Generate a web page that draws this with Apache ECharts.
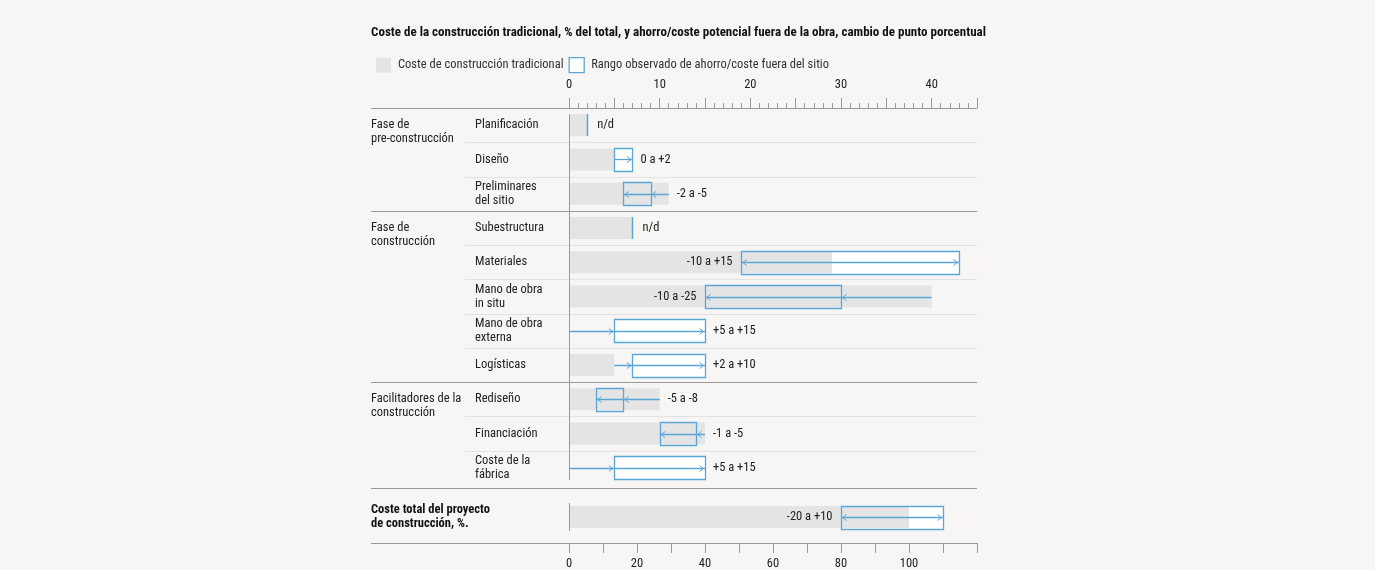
<!DOCTYPE html>
<html>
<head>
<meta charset="utf-8">
<script src="https://cdn.jsdelivr.net/npm/echarts@6/dist/echarts.min.js"></script>
<style>
  html, body { margin: 0; padding: 0; background: #f7f6f4; }
  #chart { width: 1375px; height: 570px; }
</style>
</head>
<body>
<div id="chart"></div>
<script>
const FONT = "'Roboto Condensed', 'Open Sans Condensed', sans-serif";
const BLUE = '#5aa6d8';
const GREY_BAR = '#e4e4e4';
const LINE = '#9a9a9a';
const SOFT = '#e3e3e3';

// filas superiores (% del total, escala de arriba)
const categories = ['Planificación', 'Diseño', 'Preliminares\ndel sitio', 'Subestructura', 'Materiales',
  'Mano de obra\nin situ', 'Mano de obra\nexterna', 'Logísticas', 'Rediseño', 'Financiación', 'Coste de la\nfábrica'];
const traditional = [2, 5, 11, 7, 29, 40, 0, 5, 10, 15, 0];
const rangeLow = [null, 5, 6, null, 19, 15, 5, 7, 3, 10, 5];
const rangeHigh = [null, 7, 9, null, 43, 30, 15, 15, 6, 14, 15];
const rangeLabels = ['n/d', '0 a +2', '-2 a -5', 'n/d', '-10 a +15', '-10 a -25', '+5 a +15', '+2 a +10', '-5 a -8', '-1 a -5', '+5 a +15'];

const groupNames = ['Fase de\npre-construcción', 'Fase de\nconstrucción', 'Facilitadores de la\nconstrucción'];
const groupFirstRow = [0, 3, 8];

// fila del total (escala de abajo)
const totalCategory = ['Coste total del proyecto\nde construcción, %.'];
const totalTraditional = [100];
const totalLow = [80];
const totalHigh = [110];
const totalLabels = ['-20 a +10'];

const topMax = 45;
const bottomMax = 120;

const LEFT = 371, RIGHT = 977;
const FS = 12.5;

const chart = echarts.init(document.getElementById('chart'));

function rangeRenderer(base, low, high, labels, axisMax, layer) {
  return function (params, api) {
    const i = params.dataIndex;
    const yc = api.coord([0, i])[1];
    const xb = api.coord([base[i], i])[0];
    const h = 23;
    const textStyle = (x, txt, align) => ({
      type: 'text',
      style: { text: txt, x: x, y: yc, align: align, verticalAlign: 'middle',
        fontFamily: FONT, fontSize: FS, fill: '#222' }
    });
    if (low[i] == null) {
      if (layer === 'fill') return null;
      const xr = Math.round(xb) + 0.5;
      return {
        type: 'group',
        children: [
          { type: 'line', shape: { x1: xr, y1: yc - 11, x2: xr, y2: yc + 11 }, style: { stroke: BLUE, lineWidth: 1.5 } },
          textStyle(xb + 10, labels[i], 'left')
        ]
      };
    }
    const xl = Math.round(api.coord([low[i], i])[0]) + 0.5;
    const xh = Math.round(api.coord([high[i], i])[0]) + 0.5;
    const top = Math.round(yc - h / 2) + 0.5;
    if (layer === 'fill') {
      return { type: 'rect', shape: { x: xl, y: top, width: xh - xl, height: h }, style: { fill: '#ffffff' } };
    }
    const b = base[i], lo = low[i], hi = high[i];
    let from, to, heads;
    if (lo < b && hi > b) { from = lo; to = hi; heads = [[lo, -1], [hi, 1]]; }
    else if (lo >= b) { from = b; to = hi; heads = lo > b ? [[lo, 1], [hi, 1]] : [[hi, 1]]; }
    else { from = b; to = lo; heads = hi < b ? [[hi, -1], [lo, -1]] : [[lo, -1]]; }
    const ym = Math.round(yc) + 0.5;
    const children = [
      { type: 'rect', shape: { x: xl, y: top, width: xh - xl, height: h }, style: { fill: null, stroke: BLUE, lineWidth: 1.3 } },
      { type: 'line', shape: { x1: api.coord([from, i])[0], y1: ym, x2: api.coord([to, i])[0], y2: ym }, style: { stroke: BLUE, lineWidth: 1.3 } }
    ];
    heads.forEach(([v, dir]) => {
      const x = api.coord([v, i])[0] - dir * 1.5;
      children.push({ type: 'polyline', shape: { points: [[x - dir * 4, ym - 3], [x, ym], [x - dir * 4, ym + 3]] },
        style: { stroke: BLUE, lineWidth: 1, fill: null } });
    });
    const farRight = Math.max(b, hi);
    if (farRight / axisMax > 0.6) {
      children.push(textStyle(xl - 9, labels[i], 'right'));
    } else {
      children.push(textStyle(api.coord([farRight, i])[0] + 8, labels[i], 'left'));
    }
    return { type: 'group', children: children };
  };
}

const rangeName = 'Rango observado de ahorro/coste fuera del sitio';
const costName = 'Coste de construcción tradicional';

const option = {
  backgroundColor: '#f7f6f4',
  animation: false,
  textStyle: { fontFamily: FONT },
  title: {
    text: 'Coste de la construcción tradicional, % del total, y ahorro/coste potencial fuera de la obra, cambio de punto porcentual',
    left: LEFT - 5, top: 21,
    textStyle: { fontFamily: FONT, fontSize: 13, fontWeight: 'bold', color: '#111' }
  },
  legend: {
    left: LEFT, top: 52, itemWidth: 15, itemHeight: 15, itemGap: 5, selectedMode: false,
    textStyle: { fontFamily: FONT, fontSize: FS, color: '#333', padding: [0, 0, 0, 2] },
    data: [
      { name: costName, icon: 'rect', itemStyle: { color: GREY_BAR, borderWidth: 0 } },
      { name: rangeName, icon: 'rect', itemStyle: { color: '#ffffff', borderColor: BLUE, borderWidth: 1.3 } }
    ]
  },
  grid: [
    { left: 569, width: 408, top: 108, height: 377 },
    { left: 569, width: 408, top: 500, height: 34.3 }
  ],
  xAxis: [
    {
      gridIndex: 0, type: 'value', position: 'top', min: 0, max: topMax, interval: 5,
      axisLine: { show: true, lineStyle: { color: LINE, width: 1 } },
      axisTick: { show: true, length: 10, lineStyle: { color: LINE } },
      minorTick: { show: true, splitNumber: 5, length: 5, lineStyle: { color: LINE } },
      splitLine: { show: false },
      axisLabel: {
        margin: 17, fontFamily: FONT, fontSize: FS, color: '#222',
        formatter: v => (v % 10 === 0 && v <= 40 ? String(v) : '')
      }
    },
    {
      gridIndex: 1, type: 'value', position: 'bottom', offset: 9, min: 0, max: bottomMax, interval: 10,
      axisLine: { show: true, lineStyle: { color: LINE, width: 1 } },
      axisTick: { show: true, length: 10, lineStyle: { color: LINE } },
      splitLine: { show: false },
      axisLabel: {
        margin: 14, fontFamily: FONT, fontSize: FS, color: '#222',
        formatter: v => (v % 20 === 0 && v <= 100 ? String(v) : '')
      }
    }
  ],
  yAxis: [
    {
      gridIndex: 0, type: 'category', data: categories, inverse: true,
      axisLine: { show: false }, axisTick: { show: false },
      axisLabel: { align: 'left', margin: 94, fontFamily: FONT, fontSize: FS, lineHeight: 14, color: '#222' }
    },
    {
      gridIndex: 1, type: 'category', data: totalCategory, inverse: true,
      axisLine: { show: false }, axisTick: { show: false },
      axisLabel: { align: 'left', margin: 198, fontFamily: FONT, fontSize: FS, lineHeight: 14, fontWeight: 'bold', color: '#111' }
    }
  ],
  series: [
    {
      name: rangeName, type: 'custom', xAxisIndex: 0, yAxisIndex: 0, z: 1, silent: true,
      renderItem: rangeRenderer(traditional, rangeLow, rangeHigh, rangeLabels, topMax, 'fill'),
      encode: { x: 0, y: 1 },
      data: categories.map((c, i) => [0, i])
    },
    {
      name: rangeName, type: 'custom', xAxisIndex: 1, yAxisIndex: 1, z: 1, silent: true,
      renderItem: rangeRenderer(totalTraditional, totalLow, totalHigh, totalLabels, bottomMax, 'fill'),
      encode: { x: 0, y: 1 },
      data: totalCategory.map((c, i) => [0, i])
    },
    {
      name: costName, type: 'bar', xAxisIndex: 0, yAxisIndex: 0, z: 2, silent: true,
      barWidth: 22, itemStyle: { color: GREY_BAR },
      data: traditional
    },
    {
      name: costName, type: 'bar', xAxisIndex: 1, yAxisIndex: 1, z: 2, silent: true,
      barWidth: 22, itemStyle: { color: GREY_BAR },
      data: totalTraditional
    },
    {
      name: rangeName, type: 'custom', xAxisIndex: 0, yAxisIndex: 0, z: 3, silent: true,
      renderItem: rangeRenderer(traditional, rangeLow, rangeHigh, rangeLabels, topMax, 'stroke'),
      encode: { x: 0, y: 1 },
      data: categories.map((c, i) => [0, i])
    },
    {
      name: rangeName, type: 'custom', xAxisIndex: 1, yAxisIndex: 1, z: 3, silent: true,
      renderItem: rangeRenderer(totalTraditional, totalLow, totalHigh, totalLabels, bottomMax, 'stroke'),
      encode: { x: 0, y: 1 },
      data: totalCategory.map((c, i) => [0, i])
    }
  ]
};

chart.setOption(option);

// separadores, línea del cero y etiquetas de grupo a partir de las escalas
const rowY = i => chart.convertToPixel({ xAxisIndex: 0, yAxisIndex: 0 }, [0, i])[1];
const x0 = Math.round(chart.convertToPixel({ xAxisIndex: 0, yAxisIndex: 0 }, [0, 0])[0]) + 0.5;
const band = rowY(1) - rowY(0);
const px = v => Math.round(v) + 0.5;
const hline = (xa, y, color) => ({
  type: 'line', silent: true, z: 0,
  shape: { x1: xa, y1: px(y), x2: RIGHT, y2: px(y) },
  style: { stroke: color, lineWidth: 1 }
});

const graphics = [];
const topAxisY = rowY(0) - band / 2;
graphics.push(hline(LEFT, topAxisY, LINE));
for (let i = 1; i < categories.length; i++) {
  const y = rowY(i) - band / 2;
  if (groupFirstRow.includes(i)) graphics.push(hline(LEFT, y, LINE));
  else graphics.push(hline(465, y, SOFT));
}
graphics.push(hline(LEFT, rowY(categories.length - 1) + band / 2 + 3, LINE));

const totalY = chart.convertToPixel({ xAxisIndex: 1, yAxisIndex: 1 }, [0, 0])[1];
const totalRect = chart.getModel().getComponent('grid', 1).coordinateSystem.getRect();
graphics.push(hline(LEFT, totalRect.y + totalRect.height + 9, LINE));

graphics.push({
  type: 'line', silent: true, z: 10,
  shape: { x1: x0, y1: rowY(0) - 11, x2: x0, y2: rowY(categories.length - 1) + 12 },
  style: { stroke: LINE, lineWidth: 1 }
});
graphics.push({
  type: 'line', silent: true, z: 10,
  shape: { x1: x0, y1: totalY - 14, x2: x0, y2: totalY + 14 },
  style: { stroke: LINE, lineWidth: 1 }
});

groupNames.forEach((name, g) => {
  graphics.push({
    type: 'text', silent: true, z: 10,
    style: {
      text: name, x: LEFT, y: rowY(groupFirstRow[g]) - 7, align: 'left', verticalAlign: 'top',
      fontFamily: FONT, fontSize: FS, lineHeight: 14, fill: '#222'
    }
  });
});

chart.setOption({ graphic: graphics });
</script>
</body>
</html>
